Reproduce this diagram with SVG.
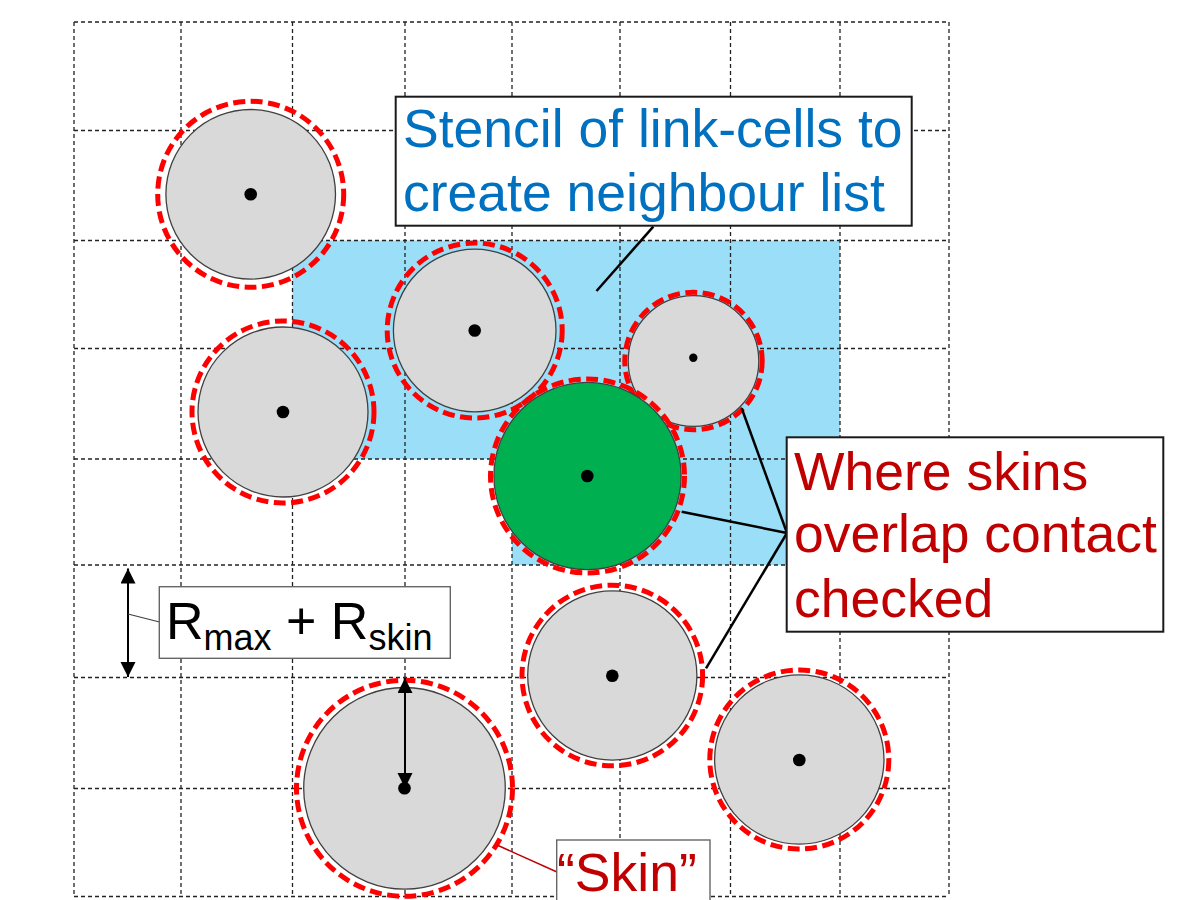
<svg xmlns="http://www.w3.org/2000/svg" width="1191" height="900" viewBox="0 0 1191 900">
<defs>
<style>
.grid{stroke:#222;stroke-width:1.3;stroke-dasharray:4 3;fill:none}
.part{fill:#D9D9D9;stroke:#404040;stroke-width:1.3}
.green{fill:#00B050;stroke:#404040;stroke-width:1.3}
.skin{fill:none;stroke:#FF0000;stroke-width:5;stroke-dasharray:12 5.5}
.dot{fill:#000}
.lead{stroke:#000;stroke-width:2.5;fill:none}
.box{fill:#fff;stroke:#1a1a1a;stroke-width:2}
.box2{fill:#fff;stroke:#666;stroke-width:1.4}
.t{font-family:"Liberation Sans",Arial,sans-serif;font-size:53.5px}
.blue{fill:#0070C0}
.dred{fill:#C00000}
</style>
<marker id="ah" markerUnits="userSpaceOnUse" markerWidth="16" markerHeight="16" refX="15" refY="7.5" orient="auto-start-reverse">
<path d="M0,0 L15,7.5 L0,15 z" fill="#000"/>
</marker>
</defs>
<rect width="1191" height="900" fill="#fff"/>
<g id="stencil">
<polygon points="292.5,240.5 840,240.5 840,565 512,565 512,459 292.5,459" fill="#9ADEF7"/>
</g>
<g id="grid" class="grid">
<line x1="74" y1="22" x2="74" y2="896.5"/>
<line x1="181" y1="22" x2="181" y2="896.5"/>
<line x1="292.5" y1="22" x2="292.5" y2="896.5"/>
<line x1="405" y1="22" x2="405" y2="896.5"/>
<line x1="512" y1="22" x2="512" y2="896.5"/>
<line x1="620" y1="22" x2="620" y2="896.5"/>
<line x1="730.5" y1="22" x2="730.5" y2="896.5"/>
<line x1="840" y1="22" x2="840" y2="896.5"/>
<line x1="949" y1="22" x2="949" y2="896.5"/>
<line x1="74" y1="22" x2="949" y2="22"/>
<line x1="74" y1="130.5" x2="949" y2="130.5"/>
<line x1="74" y1="240.5" x2="949" y2="240.5"/>
<line x1="74" y1="348.5" x2="949" y2="348.5"/>
<line x1="74" y1="459" x2="949" y2="459"/>
<line x1="74" y1="565" x2="949" y2="565"/>
<line x1="74" y1="677.5" x2="949" y2="677.5"/>
<line x1="74" y1="788.5" x2="949" y2="788.5"/>
<line x1="74" y1="896.5" x2="949" y2="896.5"/>
</g>
<g id="p1"><circle class="part" cx="250.7" cy="194.3" r="84.8"/><circle class="skin" cx="250.7" cy="194.3" r="93"/><circle class="dot" cx="250.7" cy="194.3" r="6.3"/></g>
<g id="p2"><circle class="part" cx="283" cy="412" r="85"/><circle class="skin" cx="283" cy="412" r="91"/><circle class="dot" cx="283" cy="412" r="6.3"/></g>
<g id="p3"><circle class="part" cx="474.7" cy="330.5" r="81.3"/><circle class="skin" cx="474.7" cy="330.5" r="87.5"/><circle class="dot" cx="474.7" cy="330.5" r="6.3"/></g>
<g id="p4"><circle class="part" cx="693.5" cy="361" r="65.3"/><circle class="skin" cx="693.5" cy="361" r="68.7"/><circle class="dot" cx="693.3" cy="357.7" r="4.2"/></g>
<g id="p5"><circle class="green" cx="587.5" cy="476" r="93.6"/><circle class="skin" cx="587.5" cy="476" r="97"/><circle class="dot" cx="587.3" cy="476" r="6.3"/></g>
<g id="p6"><circle class="part" cx="612.3" cy="675.5" r="84.6"/><circle class="skin" cx="612.3" cy="675.5" r="90.3"/><circle class="dot" cx="612.3" cy="675.7" r="6.3"/></g>
<g id="p7"><circle class="part" cx="799.3" cy="759.5" r="84.7"/><circle class="skin" cx="799.3" cy="759.5" r="89.5"/><circle class="dot" cx="799.3" cy="760" r="6.3"/></g>
<g id="p8"><circle class="part" cx="404.5" cy="788.3" r="100.8"/><circle class="skin" cx="404.5" cy="788.3" r="108"/><circle class="dot" cx="404.5" cy="788.3" r="6.3"/></g>
<g id="connectors">
<line x1="128" y1="568.5" x2="128" y2="677" stroke="#000" stroke-width="2" marker-start="url(#ah)" marker-end="url(#ah)"/>
<line x1="405" y1="678" x2="405" y2="788" stroke="#000" stroke-width="2" marker-start="url(#ah)" marker-end="url(#ah)"/>
<line x1="128" y1="614" x2="159.5" y2="622" stroke="#404040" stroke-width="1.2"/>
<line class="lead" x1="653.3" y1="226.7" x2="596.5" y2="291"/>
<line class="lead" x1="787" y1="533" x2="681.7" y2="511.7"/>
<line class="lead" x1="787" y1="533" x2="741.7" y2="408.3"/>
<line class="lead" x1="787" y1="533" x2="706" y2="668.3"/>
<line x1="497" y1="845" x2="557" y2="872" stroke="#C00000" stroke-width="1.5"/>
</g>
<g id="label-stencil">
<rect class="box" x="395.7" y="96.7" width="516" height="129"/>
<text class="t blue" x="403" y="146.5">Stencil of link-cells to</text>
<text class="t blue" x="403" y="211">create neighbour list</text>
</g>
<g id="label-contact">
<rect class="box" x="786.7" y="437.3" width="376.6" height="194.4"/>
<text class="t dred" x="794" y="489.5">Where skins</text>
<text class="t dred" x="794" y="552">overlap contact</text>
<text class="t dred" x="794" y="616.5">checked</text>
</g>
<g id="label-rmax">
<rect class="box2" x="159.3" y="586.7" width="291" height="71.6"/>
<text class="t" fill="#000"><tspan x="166" y="638.5" font-size="52">R</tspan><tspan y="650" font-size="36">max</tspan><tspan y="638.5" font-size="52"> + R</tspan><tspan y="650" font-size="36">skin</tspan></text>
</g>
<g id="label-skin">
<rect class="box2" x="556.7" y="840" width="153.3" height="70"/>
<text class="t dred" x="557" y="891">“Skin”</text>
</g>
</svg>
